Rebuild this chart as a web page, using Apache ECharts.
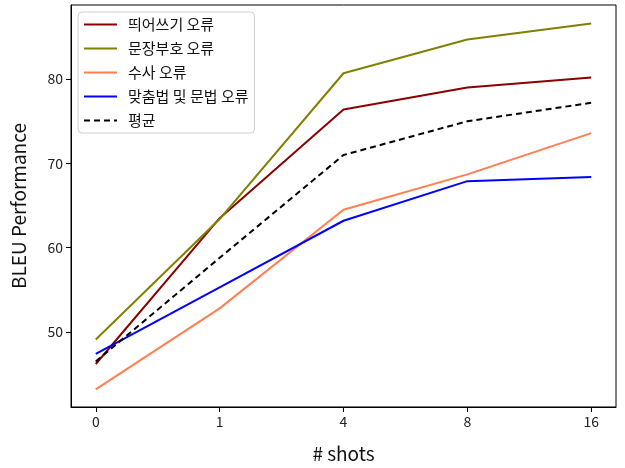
<!DOCTYPE html>
<html>
<head>
<meta charset="utf-8">
<script src="https://cdn.jsdelivr.net/npm/echarts@6/dist/echarts.min.js"></script>
<style>
  html, body { margin: 0; padding: 0; background: #fff; }
  #chart { width: 625px; height: 468px; }
</style>
</head>
<body>
<div id="chart"></div>
<script>
const shots = ['0', '1', '4', '8', '16'];
const spacing = [46.2, 63.5, 76.4, 79.0, 80.2];
const punctuation = [49.1, 63.4, 80.7, 84.7, 86.6];
const numeral = [43.2, 52.8, 64.5, 68.7, 73.6];
const grammar = [47.4, 55.3, 63.2, 67.9, 68.4];
const average = [46.5, 58.8, 71.0, 75.0, 77.2];
const yTicks = [50, 60, 70, 80];

const font = '"Noto Sans CJK KR", "Noto Sans", sans-serif';
const toPts = (arr) => arr.map((v, i) => [i, v]);

function line(name, data, color, dashed) {
  return {
    name,
    type: 'line',
    data: toPts(data),
    symbol: 'none',
    lineStyle: { color, width: 2, type: dashed ? [6, 4] : 'solid' },
    itemStyle: { color },
  };
}

const chart = echarts.init(document.getElementById('chart'));
chart.setOption({
  animation: false,
  grid: { left: 71, right: 9, top: 5, bottom: 55, show: true, borderColor: '#000', borderWidth: 1 },
  legend: {
    left: 78, top: 12, orient: 'vertical',
    backgroundColor: '#fff', borderColor: '#d0d0d0', borderWidth: 1, borderRadius: 4,
    padding: [5, 6, 5, 5], itemWidth: 33, itemHeight: 14, itemGap: 9,
    itemStyle: { opacity: 0 },
    textStyle: { fontFamily: font, fontSize: 15, color: '#111', padding: [0, 0, 0, 6] },
  },
  xAxis: {
    type: 'value', min: -0.2, max: 4.2,
    name: '# shots', nameLocation: 'middle', nameGap: 37,
    nameTextStyle: { fontFamily: font, fontSize: 19, color: '#111' },
    axisLine: { show: true, onZero: false, lineStyle: { color: '#000' } },
    axisTick: { show: true, length: 5, customValues: [0, 1, 2, 3, 4], lineStyle: { color: '#000' } },
    axisLabel: { customValues: [0, 1, 2, 3, 4], formatter: (v) => shots[v], fontFamily: font, fontSize: 14, color: '#222', margin: 8 },
    splitLine: { show: false },
  },
  yAxis: {
    type: 'value', min: 41.1, max: 88.8,
    name: 'BLEU Performance', nameLocation: 'middle', nameGap: 43,
    nameTextStyle: { fontFamily: font, fontSize: 19, color: '#111' },
    axisLine: { show: true, onZero: false, lineStyle: { color: '#000' } },
    axisTick: { show: true, length: 5, customValues: yTicks, lineStyle: { color: '#000' } },
    axisLabel: { customValues: yTicks, fontFamily: font, fontSize: 14, color: '#222', margin: 8 },
    splitLine: { show: false },
  },
  series: [
    line('띄어쓰기 오류', spacing, '#8b0000'),
    line('문장부호 오류', punctuation, '#808000'),
    line('수사 오류', numeral, '#ff7f50'),
    line('맞춤법 및 문법 오류', grammar, '#0000ff'),
    line('평균', average, '#000', true),
  ],
});
</script>
</body>
</html>
